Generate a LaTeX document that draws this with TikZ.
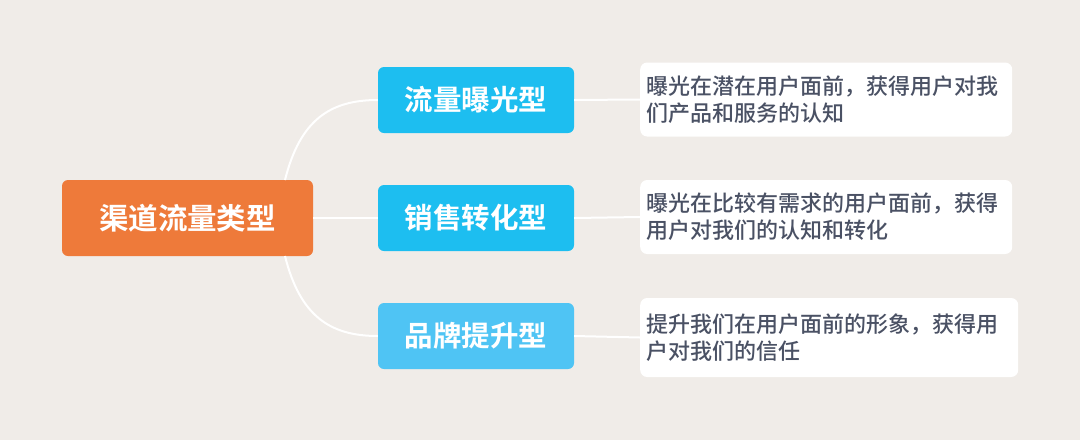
\documentclass[tikz,border=0pt]{standalone}
\usepackage{fontspec}
\newfontfamily\cjk{Noto Sans CJK SC Medium}
\newfontfamily\cjkb{Noto Sans CJK SC Bold}
\definecolor{bg}{HTML}{F0ECE8}
\definecolor{rootc}{HTML}{EE7A3A}
\definecolor{kid}{HTML}{1DBEF0}
\definecolor{kid3}{HTML}{4FC4F4}
\definecolor{txt}{HTML}{4A5164}
\begin{document}
\begin{tikzpicture}[x=1pt,y=-1pt,
  rootbox/.style={fill=rootc,rounded corners=6pt,minimum width=251pt,minimum height=76pt,inner sep=0pt,text=white,font=\cjkb\fontsize{29.5}{32}\selectfont},
  kidbox/.style={fill=kid,rounded corners=6pt,minimum width=196pt,minimum height=66pt,inner sep=0pt,text=white,font=\cjkb\fontsize{28.5}{32}\selectfont},
  leafbox/.style={fill=white,rounded corners=7pt,minimum height=74pt,inner sep=0pt,text=txt,align=left,font=\cjk\fontsize{22}{27}\selectfont,anchor=west},
  link/.style={draw=white,line width=2pt}]
\fill[bg] (0,0) rectangle (1080,440);
\useasboundingbox (0,0) rectangle (1080,440);
\node[rootbox] (root) at (187.5,218) {渠道流量类型};
\node[kidbox] (k1) at (476,100) {流量曝光型};
\node[kidbox] (k2) at (476,218) {销售转化型};
\node[kidbox,fill=kid3] (k3) at (476,336) {品牌提升型};
\node[leafbox,minimum width=372pt,text width=360pt] (l1) at (640,99.5) {曝光在潜在用户面前，获得用户对我\\们产品和服务的认知};
\node[leafbox,minimum width=372pt,text width=360pt] (l2) at (640,217) {曝光在比较有需求的用户面前，获得\\用户对我们的认知和转化};
\node[leafbox,minimum width=378pt,minimum height=79pt,text width=366pt] (l3) at (640,337.5) {提升我们在用户面前的形象，获得用\\户对我们的信任};
\coordinate (top) at (285,180);
\coordinate (bot) at (285,256);
\draw[link] (top) .. controls (300,120) and (330,100) .. (k1.west);
\draw[link] (bot) .. controls (300,316) and (330,336) .. (k3.west);
\draw[link] (root.east) -- (k2.west);
\draw[link] (k1.east) -- (l1.west);
\draw[link] (k2.east) -- (l2.west);
\draw[link] (k3.east) -- (l3.west);
\end{tikzpicture}
\end{document}
